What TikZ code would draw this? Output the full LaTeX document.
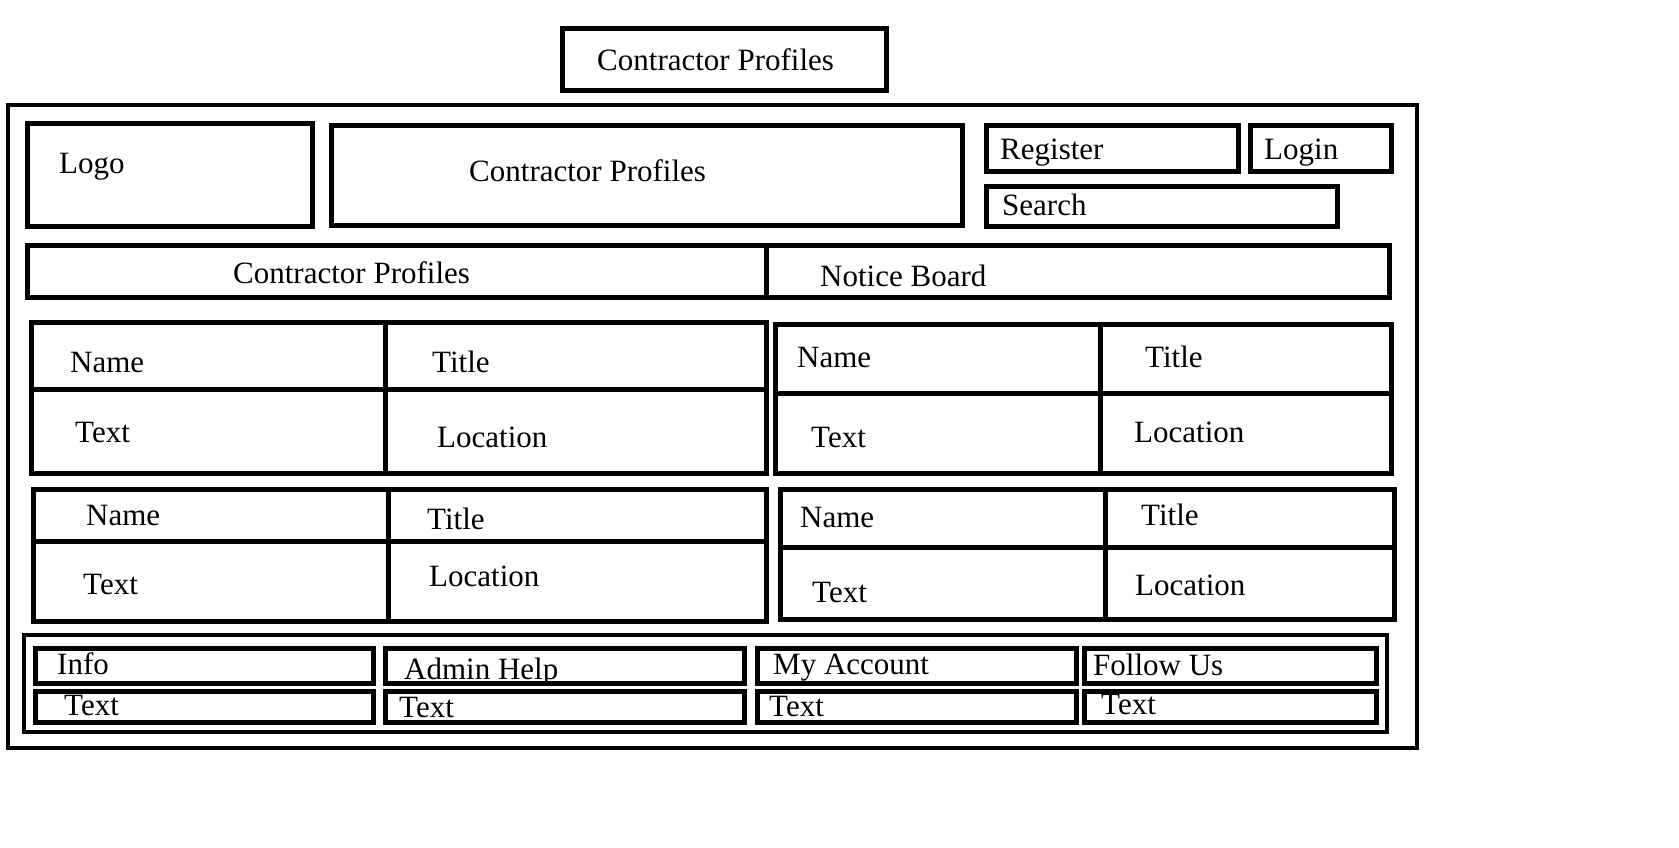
\documentclass[tikz,border=0pt]{standalone}
\usepackage{fontspec}
\setmainfont{Liberation Serif}
\usepackage{tikz}
\tikzset{
box/.style={draw=black, line width=5pt}, % frames of the page
lbl/.style={font=\fontsize{31}{33}\selectfont, inner sep=0pt, anchor=base west}
}

\begin{document}
\begin{tikzpicture}[x=1pt, y=-1pt]
    \useasboundingbox (0,0) rectangle (1679,848);
    \draw [box] (562,29) rectangle (886,91);
    \node [lbl] (title) at (597,71) {Contractor Profiles};
    \draw [box, line width=4.5pt] (8,105) rectangle (1417,748);
    % header
    \draw [box] (27,124) rectangle (312,226);
    \node [lbl] (logo) at (59,173) {Logo};
    \draw [box] (331,126) rectangle (962,225);
    \node [lbl] (head) at (469,182) {Contractor Profiles};
    \draw [box] (986,126) rectangle (1238,172);
    \node [lbl] (register) at (1000,160) {Register};
    \draw [box] (1250,126) rectangle (1391,172);
    \node [lbl] (login) at (1264,160) {Login};
    \draw [box] (986,186) rectangle (1337,226);
    \node [lbl] (search) at (1002,215) {Search};
    % menu
    \draw [box] (27,245) rectangle (1389,297) (766,245) -- (766,297);
    \node [lbl] (menuprofiles) at (233,283) {Contractor Profiles};
    \node [lbl] (menunotice) at (820,286) {Notice Board};
    % profile cards
    \draw [box] (31,322) rectangle (766,473) (385,322) -- (385,473) (31,389) -- (766,389);
    \node [lbl] (nameA) at (70,372) {Name};
    \node [lbl] (titleA) at (432,372) {Title};
    \node [lbl] (textA) at (75,442) {Text};
    \node [lbl] (locA) at (437,447) {Location};
    \draw [box] (775,324) rectangle (1391,473) (1100,324) -- (1100,473) (775,393) -- (1391,393);
    \node [lbl] (nameB) at (797,367) {Name};
    \node [lbl] (titleB) at (1145,367) {Title};
    \node [lbl] (textB) at (811,447) {Text};
    \node [lbl] (locB) at (1134,442) {Location};
    \draw [box] (33,489) rectangle (766,621) (388,489) -- (388,621) (33,541) -- (766,541);
    \node [lbl] (nameC) at (86,525) {Name};
    \node [lbl] (titleC) at (427,529) {Title};
    \node [lbl] (textC) at (83,594) {Text};
    \node [lbl] (locC) at (429,586) {Location};
    \draw [box] (780,489) rectangle (1394,619) (1105,489) -- (1105,619) (780,547) -- (1394,547);
    \node [lbl] (nameD) at (800,527) {Name};
    \node [lbl] (titleD) at (1141,525) {Title};
    \node [lbl] (textD) at (812,602) {Text};
    \node [lbl] (locD) at (1135,595) {Location};
    % footer
    \draw [box, line width=4.5pt] (24,635) rectangle (1387,732);
    \foreach \l/\r/\a/\b/\c/\d/\txt in {35/373/57/674/64/715/Info, 385/744/404/679/399/717/Admin Help,
        757/1076/773/674/769/716/My Account, 1084/1376/1093/675/1101/714/Follow Us} {
        \draw [box] (\l,648) rectangle (\r,683);
        \draw [box] (\l,691) rectangle (\r,722);
        \node [lbl] (foot\l) at (\a,\b) {\txt};
        \node [lbl] (foottext\l) at (\c,\d) {Text};
    }
\end{tikzpicture}
\end{document}
